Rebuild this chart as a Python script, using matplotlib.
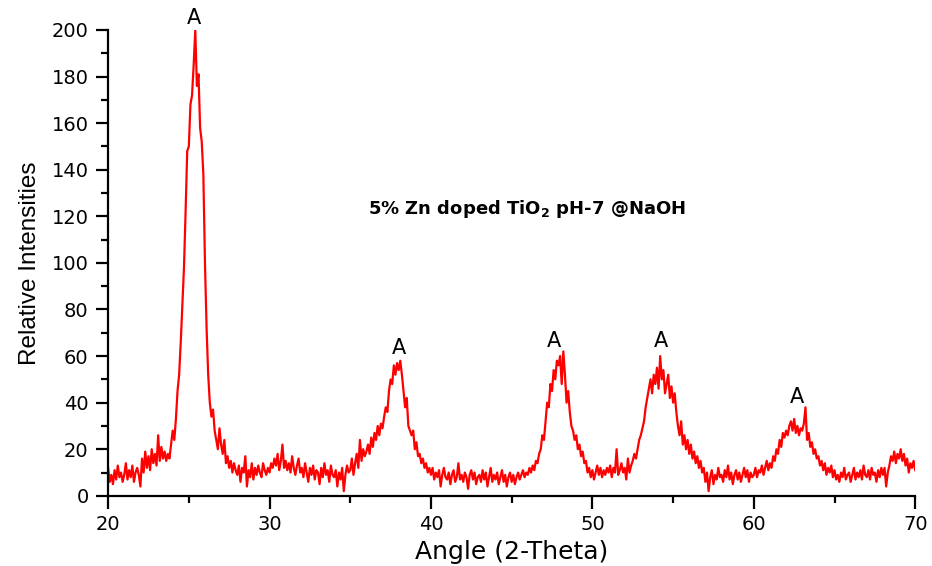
import numpy as np
import matplotlib
matplotlib.use('Agg')
import matplotlib.pyplot as plt
from matplotlib.ticker import MultipleLocator

# XRD pattern, 0.1 degree steps from 20.0 to 70.0
angle_start = 20.0
angle_step = 0.1
intensity = [
    12, 6, 9, 5, 11, 7, 13, 8, 10, 6,          # 20
    9, 14, 7, 11, 8, 13, 6, 10, 12, 9,         # 21
    4, 16, 10, 19, 12, 17, 11, 20, 14, 18,     # 22
    13, 26, 15, 21, 16, 19, 15, 18, 16, 22,    # 23
    28, 24, 33, 45, 52, 66, 82, 98, 122, 148,  # 24
    150, 168, 172, 185, 200, 176, 181, 158, 152, 138,  # 25
    100, 72, 52, 40, 34, 37, 28, 24, 20, 29,   # 26
    22, 18, 24, 14, 17, 12, 15, 10, 14, 11,    # 27
    9, 13, 6, 12, 10, 17, 4, 11, 8, 14,        # 28
    7, 12, 9, 13, 10, 8, 14, 11, 9, 12,        # 29
    10, 14, 12, 16, 13, 18, 11, 15, 22, 12,    # 30
    15, 11, 14, 10, 17, 12, 9, 13, 16, 10,     # 31
    12, 8, 14, 10, 6, 12, 9, 13, 7, 11,        # 32
    10, 5, 12, 8, 14, 9, 11, 6, 13, 9,         # 33
    8, 11, 4, 10, 7, 12, 2, 9, 13, 10,         # 34
    11, 16, 9, 14, 18, 12, 24, 15, 20, 17,     # 35
    19, 22, 18, 25, 21, 27, 24, 30, 26, 31,    # 36
    29, 34, 38, 36, 45, 50, 48, 56, 52, 57,    # 37
    54, 58, 52, 45, 38, 42, 30, 28, 26, 28,    # 38
    20, 23, 17, 18, 14, 16, 12, 14, 10, 12,    # 39
    9, 12, 7, 10, 8, 11, 4, 9, 12, 8,          # 40
    7, 10, 5, 9, 11, 6, 8, 14, 7, 9,           # 41
    6, 10, 8, 3, 9, 11, 7, 10, 5, 8,           # 42
    9, 6, 11, 7, 10, 4, 8, 12, 6, 9,           # 43
    7, 10, 5, 8, 11, 6, 9, 4, 8, 10,           # 44
    6, 9, 5, 8, 10, 7, 9, 11, 8, 10,           # 45
    9, 12, 10, 13, 11, 15, 14, 18, 20, 26,     # 46
    24, 32, 40, 38, 48, 45, 54, 50, 58, 56,    # 47
    60, 48, 62, 52, 40, 45, 36, 30, 28, 24,    # 48
    26, 20, 22, 17, 19, 14, 15, 10, 12, 8,     # 49
    11, 7, 10, 13, 9, 12, 8, 11, 9, 12,        # 50
    10, 13, 8, 12, 10, 20, 9, 11, 14, 10,      # 51
    12, 7, 16, 10, 13, 15, 18, 16, 20, 24,     # 52
    26, 29, 32, 38, 42, 46, 50, 44, 52, 48,    # 53
    55, 46, 60, 50, 54, 44, 48, 52, 42, 47,    # 54
    40, 44, 36, 30, 26, 32, 22, 26, 20, 24,    # 55
    18, 22, 16, 19, 14, 17, 12, 15, 10, 12,    # 56
    6, 10, 2, 8, 11, 5, 9, 7, 12, 8,           # 57
    9, 6, 11, 8, 13, 7, 10, 5, 9, 11,          # 58
    7, 10, 6, 9, 12, 8, 11, 6, 10, 8,          # 59
    9, 12, 8, 11, 10, 13, 9, 12, 15, 11,       # 60
    14, 12, 17, 15, 20, 18, 24, 21, 27, 25,    # 61
    28, 26, 30, 32, 28, 33, 27, 30, 26, 29,    # 62
    28, 31, 38, 24, 27, 21, 23, 18, 20, 16,    # 63
    17, 13, 15, 11, 14, 9, 12, 10, 13, 8,      # 64
    11, 7, 9, 6, 10, 8, 12, 7, 9, 10,          # 65
    6, 9, 12, 7, 10, 8, 11, 7, 13, 9,          # 66
    8, 11, 7, 12, 9, 10, 6, 11, 8, 12,         # 67
    9, 12, 4, 10, 13, 17, 15, 19, 14, 18,      # 68
    16, 20, 15, 18, 13, 16, 10, 14, 12, 15,    # 69
    11,                                        # 70
]
angle = angle_start + angle_step * np.arange(len(intensity))

# anatase peak markers
peak_pos = [25.33, 38.0, 47.6, 54.25, 62.7]
peak_lbl_y = [201, 59, 62, 62, 38]
peak_lbl = ['A', 'A', 'A', 'A', 'A']

sample_label = r'5% Zn doped TiO$_\mathbf{2}$ pH-7 @NaOH'

fig = plt.figure(figsize=(9.32, 5.66), dpi=100)
ax = fig.add_axes([0.116, 0.124, 0.866, 0.823])

ax.plot(angle, intensity, color='#ff0000', linewidth=1.6)

for x, y, t in zip(peak_pos, peak_lbl_y, peak_lbl):
    ax.text(x, y, t, ha='center', va='bottom', fontsize=15,
            family='DejaVu Sans', clip_on=False)

ax.text(45.96, 123, sample_label, ha='center', va='center', fontsize=13,
        fontweight='bold', family='DejaVu Sans')

ax.set_xlim(20, 70)
ax.set_ylim(0, 200)
ax.xaxis.set_major_locator(MultipleLocator(10))
ax.xaxis.set_minor_locator(MultipleLocator(5))
ax.yaxis.set_major_locator(MultipleLocator(20))
ax.yaxis.set_minor_locator(MultipleLocator(10))

for s in ['top', 'right']:
    ax.spines[s].set_visible(False)
for s in ['left', 'bottom']:
    ax.spines[s].set_linewidth(1.6)

ax.tick_params(which='major', direction='out', length=9, width=1.6,
               labelsize=14, pad=5)
ax.tick_params(which='minor', direction='out', length=5, width=1.6)
for lab in ax.get_xticklabels() + ax.get_yticklabels():
    lab.set_family('DejaVu Sans')

ax.set_xlabel('Angle (2-Theta)', fontsize=18, family='DejaVu Sans', labelpad=4)
ax.set_ylabel('Relative Intensities', fontsize=17.5,
              family='Liberation Sans', labelpad=8)

fig.savefig('out.png', dpi=100)
